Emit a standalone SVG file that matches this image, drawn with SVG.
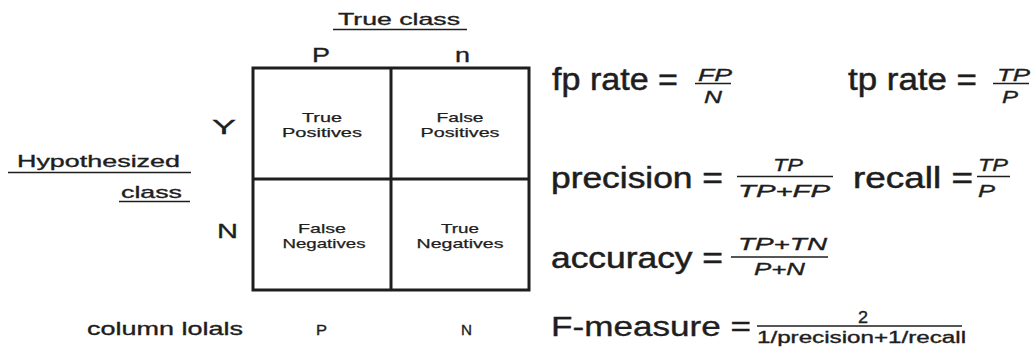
<svg xmlns="http://www.w3.org/2000/svg" width="1036" height="350" viewBox="0 0 1036 350">
<style>
text{font-family:"Liberation Sans",Arial,sans-serif;fill:#1e1e1e;stroke:#1e1e1e;stroke-width:0.35}
.ax{font-size:21px}
.cell{font-size:13px;text-anchor:middle;stroke-width:0.25}
.hd{font-size:17px}
.big{font-size:31px;stroke-width:0.5}
.mid{font-size:29px;stroke-width:0.5}
.fr{font-size:17px;font-style:italic}
.frn{font-size:16px}
.ul{stroke:#1e1e1e;stroke-width:1.6}
.fl{stroke:#1e1e1e;stroke-width:1.4}
.box{fill:none;stroke:#1e1e1e;stroke-width:3}
</style>
<rect width="1036" height="350" fill="#ffffff"/>

<g id="true-class-header">
  <text class="hd" x="338" y="25" textLength="122" lengthAdjust="spacingAndGlyphs">True class</text>
  <line class="ul" x1="333" y1="29.5" x2="467" y2="29.5"/>
  <text class="ax" x="312" y="62" textLength="18" lengthAdjust="spacingAndGlyphs">P</text>
  <text class="ax" x="455" y="62" font-size="23" textLength="15" lengthAdjust="spacingAndGlyphs">n</text>
</g>

<g id="hypothesized-header">
  <text class="hd" x="17" y="167" textLength="163" lengthAdjust="spacingAndGlyphs">Hypothesized</text>
  <line class="ul" x1="8" y1="172.5" x2="191" y2="172.5"/>
  <text class="hd" x="121" y="198" textLength="61" lengthAdjust="spacingAndGlyphs">class</text>
  <line class="ul" x1="119" y1="201.5" x2="190" y2="201.5"/>
  <text class="ax" x="212" y="134" font-size="22" textLength="24" lengthAdjust="spacingAndGlyphs">Y</text>
  <text class="ax" x="217" y="238" textLength="21" lengthAdjust="spacingAndGlyphs">N</text>
</g>

<g id="matrix">
  <rect class="box" x="253" y="68" width="276" height="222"/>
  <line class="box" x1="391" y1="68" x2="391" y2="290"/>
  <line class="box" x1="253" y1="179" x2="529" y2="179"/>
</g>

<g id="cell-tp">
  <text class="cell" x="322" y="122" textLength="40" lengthAdjust="spacingAndGlyphs">True</text>
  <text class="cell" x="322" y="137" textLength="80" lengthAdjust="spacingAndGlyphs">Positives</text>
</g>
<g id="cell-fp">
  <text class="cell" x="460" y="122" textLength="47" lengthAdjust="spacingAndGlyphs">False</text>
  <text class="cell" x="460" y="137" textLength="79" lengthAdjust="spacingAndGlyphs">Positives</text>
</g>
<g id="cell-fn">
  <text class="cell" x="322" y="232.5" textLength="48" lengthAdjust="spacingAndGlyphs">False</text>
  <text class="cell" x="324" y="247.5" textLength="83" lengthAdjust="spacingAndGlyphs">Negatives</text>
</g>
<g id="cell-tn">
  <text class="cell" x="460" y="232.5" textLength="38" lengthAdjust="spacingAndGlyphs">True</text>
  <text class="cell" x="460" y="247.5" textLength="87" lengthAdjust="spacingAndGlyphs">Negatives</text>
</g>

<g id="column-totals">
  <text x="87" y="335" font-size="19" textLength="156" lengthAdjust="spacingAndGlyphs">column lolals</text>
  <text x="316" y="335" font-size="14" textLength="11" lengthAdjust="spacingAndGlyphs">P</text>
  <text x="461" y="335" font-size="14" textLength="11" lengthAdjust="spacingAndGlyphs">N</text>
</g>

<g id="fp-rate">
  <text class="big" x="552" y="90" textLength="126" lengthAdjust="spacingAndGlyphs">fp rate =</text>
  <text class="fr" x="698" y="80.5" textLength="34" lengthAdjust="spacingAndGlyphs">FP</text>
  <line class="fl" x1="695" y1="83.5" x2="731" y2="83.5"/>
  <text class="fr" x="704" y="102.5" textLength="18" lengthAdjust="spacingAndGlyphs">N</text>
</g>

<g id="tp-rate">
  <text class="big" x="848" y="90" textLength="129" lengthAdjust="spacingAndGlyphs">tp rate =</text>
  <text class="fr" x="997" y="80.5" textLength="33" lengthAdjust="spacingAndGlyphs">TP</text>
  <line class="fl" x1="993" y1="83.5" x2="1029" y2="83.5"/>
  <text class="fr" x="1002" y="102.5" textLength="16" lengthAdjust="spacingAndGlyphs">P</text>
</g>

<g id="precision">
  <text class="mid" x="551" y="188" textLength="172" lengthAdjust="spacingAndGlyphs">precision =</text>
  <text class="fr" x="773" y="170.5" textLength="30" lengthAdjust="spacingAndGlyphs">TP</text>
  <line class="fl" x1="737" y1="176.5" x2="833" y2="176.5"/>
  <text class="fr" x="738" y="196.5" textLength="92" lengthAdjust="spacingAndGlyphs">TP+FP</text>
</g>

<g id="recall">
  <text class="mid" x="853" y="188" textLength="120" lengthAdjust="spacingAndGlyphs">recall =</text>
  <text class="fr" x="978" y="170.5" textLength="30" lengthAdjust="spacingAndGlyphs">TP</text>
  <line class="fl" x1="977" y1="176.5" x2="1010" y2="176.5"/>
  <text class="fr" x="978" y="196.5" textLength="17" lengthAdjust="spacingAndGlyphs">P</text>
</g>

<g id="accuracy">
  <text class="mid" x="551" y="268" textLength="172" lengthAdjust="spacingAndGlyphs">accuracy =</text>
  <text class="fr" x="738" y="250" textLength="89" lengthAdjust="spacingAndGlyphs">TP+TN</text>
  <line class="fl" x1="731" y1="257" x2="828" y2="257"/>
  <text class="fr" x="754" y="275" textLength="51" lengthAdjust="spacingAndGlyphs">P+N</text>
</g>

<g id="f-measure">
  <text x="551" y="336" font-size="27" stroke-width="0.5" textLength="200" lengthAdjust="spacingAndGlyphs">F-measure =</text>
  <text class="frn" x="858" y="323" textLength="10" lengthAdjust="spacingAndGlyphs">2</text>
  <line class="fl" x1="757" y1="326" x2="962" y2="326"/>
  <text class="frn" x="757" y="343" textLength="209" lengthAdjust="spacingAndGlyphs">1/precision+1/recall</text>
</g>
</svg>
